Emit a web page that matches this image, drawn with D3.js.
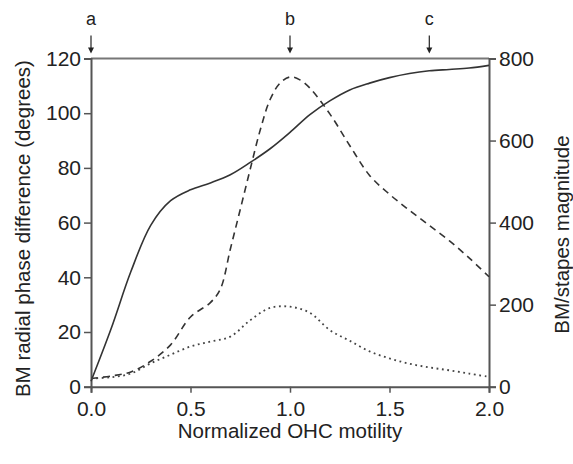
<!DOCTYPE html>
<html>
<head>
<meta charset="utf-8">
<script src="https://cdn.jsdelivr.net/npm/d3@7"></script>
<style>
  body { margin: 0; background: #fff; }
  svg text { font-family: "Liberation Sans", Arial, sans-serif; fill: #222; }
</style>
</head>
<body>
<div id="chart"></div>
<script>
// Values
const motility = [0, 0.1, 0.2, 0.3, 0.4, 0.5, 0.6, 0.7, 0.8, 0.9, 1.0, 1.1, 1.2, 1.3, 1.4, 1.5, 1.6, 1.7, 1.8, 1.9, 2.0];
const phaseDiff = [2, 21, 42, 59, 68, 72, 74.5, 77.5, 82, 87, 93, 99.5, 104.5, 108.5, 111, 113, 114.5, 115.5, 116, 116.5, 117.5];

const dashedX = [0, 0.1, 0.2, 0.3, 0.4, 0.5, 0.6, 0.65, 0.7, 0.75, 0.8, 0.85, 0.9, 0.95, 1.0, 1.05, 1.1, 1.2, 1.3, 1.4, 1.5, 1.6, 1.7, 1.8, 1.9, 2.0];
const dashedMag = [20, 26, 36, 62, 102, 170, 205, 238, 335, 432, 530, 625, 700, 740, 755, 748, 728, 665, 588, 515, 469, 430, 393, 356, 314, 268];

const dottedMag = [20, 23, 32, 57, 78, 98, 110, 122, 162, 192, 195, 180, 138, 112, 86, 69, 56, 47, 40, 32, 24];

const xTicks = [0, 0.5, 1.0, 1.5, 2.0];
const leftTicks = [0, 20, 40, 60, 80, 100, 120];
const rightTicks = [0, 200, 400, 600, 800];
const markers = [{ label: "a", x: 0 }, { label: "b", x: 1.0 }, { label: "c", x: 1.7 }];

const W = 573, H = 464;
const margin = { top: 58.5, right: 84, bottom: 77.3, left: 91 },
    width = W - margin.left - margin.right,
    height = H - margin.top - margin.bottom;

const svg = d3.select("#chart").append("svg")
    .attr("width", W)
    .attr("height", H)
    .append("g")
    .attr("transform", `translate(${margin.left},${margin.top})`);

const x = d3.scaleLinear().domain([0, 2]).range([0, width]);
const yL = d3.scaleLinear().domain([0, 120]).range([height, 0]);
const yR = d3.scaleLinear().domain([0, 800]).range([height, 0]);

const axisColor = "#555";
const tickFs = "21px";
const titleFs = "20.5px";

// top frame line
svg.append("line")
    .attr("x1", 0).attr("x2", width)
    .attr("y1", 0).attr("y2", 0)
    .attr("stroke", "#777").attr("stroke-width", 2);

// axes
const gx = svg.append("g")
    .attr("transform", `translate(0,${height})`)
    .call(d3.axisBottom(x).tickValues(xTicks).tickFormat(d3.format(".1f")).tickSizeOuter(0).tickSize(6).tickPadding(8));
const gl = svg.append("g")
    .call(d3.axisLeft(yL).tickValues(leftTicks).tickSizeOuter(0).tickSize(7).tickPadding(3));
const gr = svg.append("g")
    .attr("transform", `translate(${width},0)`)
    .call(d3.axisRight(yR).tickValues(rightTicks).tickSizeOuter(0).tickSize(7).tickPadding(3));

[gx, gl, gr].forEach(g => {
    g.select(".domain").attr("stroke", axisColor).attr("stroke-width", 2);
    g.selectAll(".tick line").attr("stroke", axisColor).attr("stroke-width", 1.5);
    g.selectAll(".tick text").attr("font-size", tickFs).attr("fill", "#222")
        .attr("font-family", "Liberation Sans, Arial, sans-serif");
});

// curves
const line = d3.line().curve(d3.curveCatmullRom.alpha(0.5));

svg.append("path")
    .attr("d", line(motility.map((m, i) => [x(m), yL(phaseDiff[i])])))
    .attr("fill", "none").attr("stroke", "#333").attr("stroke-width", 1.6);

svg.append("path")
    .attr("d", line(dashedX.map((m, i) => [x(m), yR(dashedMag[i])])))
    .attr("fill", "none").attr("stroke", "#333").attr("stroke-width", 1.6)
    .attr("stroke-dasharray", "7,5");

svg.append("path")
    .attr("d", line(motility.map((m, i) => [x(m), yR(dottedMag[i])])))
    .attr("fill", "none").attr("stroke", "#444").attr("stroke-width", 1.8)
    .attr("stroke-dasharray", "1.8,3.6");

// arrows a, b, c
const mk = svg.append("g").selectAll("g").data(markers).join("g")
    .attr("transform", d => `translate(${x(d.x)},0)`);
mk.append("text")
    .attr("y", -34).attr("text-anchor", "middle")
    .attr("font-size", "18px").text(d => d.label);
mk.append("line")
    .attr("y1", -23).attr("y2", -9)
    .attr("stroke", "#222").attr("stroke-width", 1.2);
mk.append("path")
    .attr("d", "M-3,-11 L3,-11 L0,-5 Z")
    .attr("fill", "#222");

// axis titles
svg.append("text")
    .attr("x", width / 2).attr("y", height + 51)
    .attr("text-anchor", "middle").attr("font-size", titleFs)
    .text("Normalized OHC motility");

svg.append("text")
    .attr("transform", `translate(${-61},${height / 2 + 6}) rotate(-90)`)
    .attr("text-anchor", "middle").attr("font-size", titleFs)
    .text("BM radial phase difference (degrees)");

svg.append("text")
    .attr("transform", `translate(${width + 80},${height / 2 + 12}) rotate(-90)`)
    .attr("text-anchor", "middle").attr("font-size", titleFs)
    .text("BM/stapes magnitude");
</script>
</body>
</html>
